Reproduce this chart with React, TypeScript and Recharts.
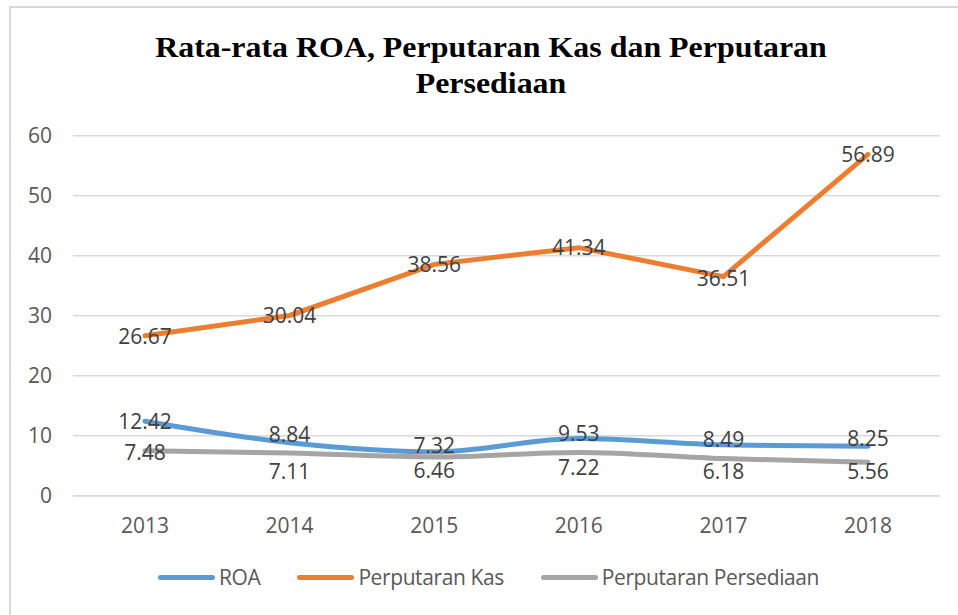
import React from 'react';
import { LineChart, Line, XAxis, YAxis, CartesianGrid } from 'recharts';

const years = ['2013', '2014', '2015', '2016', '2017', '2018'];
const roa = [12.42, 8.84, 7.32, 9.53, 8.49, 8.25];
const perputaranKas = [26.67, 30.04, 38.56, 41.34, 36.51, 56.89];
const perputaranPersediaan = [7.48, 7.11, 6.46, 7.22, 6.18, 5.56];
const yTicks = [0, 10, 20, 30, 40, 50, 60];

const roaLabelDy = [0, -9, -7, -6, -6, -8];
const kasLabelDy = [0, 0, 0, -1, 1, 0];
const persLabelDy = [1, 18, 13, 15, 12, 9];

const data = years.map((y, i) => ({
  year: y,
  roa: roa[i],
  kas: perputaranKas[i],
  pers: perputaranPersediaan[i],
}));

const FONT = '"Open Sans", sans-serif';

const makeLabel = (offsets: number[]) => (props: any) => {
  const { x, y, value, index } = props;
  return (
    <text
      key={`l-${index}`}
      x={x}
      y={y + offsets[index]}
      textAnchor="middle"
      dominantBaseline="central"
      fill="#404040"
      fontSize={21}
      fontFamily={FONT}
    >
      {Number(value).toFixed(2)}
    </text>
  );
};

const legendItems = [
  { name: 'ROA', color: '#5B9BD5' },
  { name: 'Perputaran Kas', color: '#ED7D31' },
  { name: 'Perputaran Persediaan', color: '#A5A5A5' },
];

export default function App() {
  return (
    <div style={{ position: 'absolute', left: 0, top: 0, width: 958, height: 615, background: '#fff', overflow: 'hidden' }}>
      <div
        style={{
          position: 'absolute',
          left: 9,
          top: 6,
          width: 949,
          height: 609,
          borderLeft: '2px solid #d9d9d9',
          borderTop: '2px solid #d9d9d9',
          boxSizing: 'border-box',
        }}
      />
      <div
        style={{
          position: 'absolute',
          left: 0,
          top: 29,
          width: 982,
          textAlign: 'center',
          fontFamily: '"Liberation Serif", "Times New Roman", serif',
          fontWeight: 'bold',
          fontSize: 29,
          lineHeight: '36px',
          color: '#000',
          transform: 'scaleX(1.1)',
          transformOrigin: '491px 0',
        }}
      >
        Rata-rata ROA, Perputaran Kas dan Perputaran
        <br />
        Persediaan
      </div>
      <div style={{ position: 'absolute', left: 0, top: 0 }}>
        <LineChart width={958} height={615} data={data} margin={{ top: 135.7, right: 18, bottom: 59.3, left: 0 }}>
          <CartesianGrid vertical={false} stroke="#d9d9d9" strokeWidth={1.5} />
          <XAxis
            dataKey="year"
            padding={{ left: 72, right: 72 }}
            axisLine={{ stroke: '#d9d9d9', strokeWidth: 1.5 }}
            tickLine={false}
            tickSize={0}
            tickMargin={22}
            tick={{ fill: '#595959', fontSize: 21, fontFamily: FONT }}
            height={60}
          />
          <YAxis
            domain={[0, 60]}
            ticks={yTicks}
            width={73}
            axisLine={false}
            tickLine={false}
            tickSize={0}
            tickMargin={21}
            tick={{ fill: '#595959', fontSize: 21, fontFamily: FONT }}
          />
          <Line
            type="monotone"
            dataKey="roa"
            name="ROA"
            stroke="#5B9BD5"
            strokeWidth={5}
            strokeLinecap="round"
            dot={false}
            isAnimationActive={false}
            label={makeLabel(roaLabelDy)}
          />
          <Line
            type="linear"
            dataKey="kas"
            name="Perputaran Kas"
            stroke="#ED7D31"
            strokeWidth={5}
            strokeLinecap="round"
            dot={false}
            isAnimationActive={false}
            label={makeLabel(kasLabelDy)}
          />
          <Line
            type="monotone"
            dataKey="pers"
            name="Perputaran Persediaan"
            stroke="#A5A5A5"
            strokeWidth={5}
            strokeLinecap="round"
            dot={false}
            isAnimationActive={false}
            label={makeLabel(persLabelDy)}
          />
        </LineChart>
      </div>
      <div
        style={{
          position: 'absolute',
          left: 158,
          top: 563,
          display: 'flex',
          alignItems: 'center',
          fontFamily: FONT,
          fontSize: 21,
          letterSpacing: -0.4,
          color: '#595959',
          whiteSpace: 'nowrap',
        }}
      >
        {legendItems.map((it, i) => (
          <div key={it.name} style={{ display: 'flex', alignItems: 'center', marginRight: i < 2 ? 37 : 0 }}>
            <div style={{ width: 57, height: 5, borderRadius: 3, background: it.color, marginRight: 4 }} />
            <span>{it.name}</span>
          </div>
        ))}
      </div>
    </div>
  );
}
